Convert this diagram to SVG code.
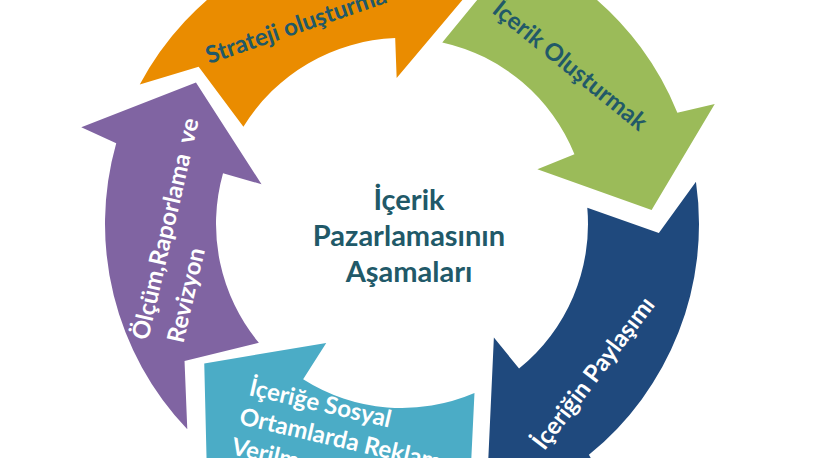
<svg xmlns="http://www.w3.org/2000/svg" width="836" height="458" viewBox="0 0 836 458">
<style>
.lbl{font-family:Lato,"Open Sans","Liberation Sans",sans-serif;font-weight:700;font-size:24px}
.dark{fill:#215968}
.light{fill:#ffffff}
.center{font-family:Lato,"Open Sans","Liberation Sans",sans-serif;font-weight:700;font-size:29px;fill:#215968;text-anchor:middle}
</style>
<rect width="836" height="458" fill="#ffffff"/>
<g id="connectors"></g>
<g id="step-strateji">
<path fill="#EA8C00" d="M139.76,84.57 A297,297 0 0 1 391.12,-72.80 L395.57,-110.94 L475.09,-15.08 L396.65,78.10 L395.18,38.12 A186,186 0 0 0 243.41,126.81 L198.66,66.84 Z"/>
<text class="lbl dark" transform="translate(209,64) rotate(-19)">Strateji oluşturma</text>
</g>
<g id="step-icerik-olusturmak">
<path fill="#9BBB59" d="M453.57,-68.49 A297,297 0 0 1 677.37,112.74 L714.75,103.95 L651.61,210.04 L537.37,169.31 L574.46,154.32 A186,186 0 0 0 442.26,42.41 L491.16,-17.04 Z"/>
<text class="lbl dark" text-anchor="middle" transform="translate(565,72) rotate(39)">İçerik Oluşturmak</text>
</g>
<g id="step-paylasim">
<path fill="#1F497D" d="M695.96,181.64 A297,297 0 0 1 588.91,454.81 L608.25,487.98 L488.33,458.62 L493.88,337.46 L519.05,368.55 A186,186 0 0 0 587.29,207.79 L658.84,232.97 Z"/>
<text class="lbl light" text-anchor="middle" transform="translate(600,378) rotate(-52.7)">İçeriğin Paylaşımı</text>
</g>
<g id="step-reklam">
<path fill="#4BACC6" d="M532.20,490.94 A297,297 0 0 1 242.42,474.49 L207.47,496.73 L204.25,363.50 L326.24,342.92 L303.14,379.18 A184,184 0 0 0 474.48,393.12 L470.68,471.65 Z"/>
<text class="lbl light" transform="translate(248,395) rotate(13)"><tspan x="0" y="0">İçeriğe Sosyal</tspan><tspan x="-3" y="30.5">Ortamlarda Reklam</tspan><tspan x="-4" y="61.5">Verilmesi</tspan></text>
</g>
<g id="step-olcum">
<path fill="#8064A2" d="M187.28,429.19 A297,297 0 0 1 116.22,143.13 L81.30,127.17 L195.97,82.40 L261.52,184.25 L223.03,173.36 A186,186 0 0 0 258.89,342.81 L184.53,360.93 Z"/>
<text class="lbl light" transform="translate(148,341) rotate(-77)" style="white-space:pre"><tspan x="0" y="0">Ölçüm,Raporlama  ve</tspan><tspan x="5" y="35">Revizyon</tspan></text>
</g>
<g id="center-title">
<text class="center"><tspan x="409" y="210">İçerik</tspan><tspan x="409" y="246">Pazarlamasının</tspan><tspan x="409" y="282">Aşamaları</tspan></text>
</g>
</svg>
